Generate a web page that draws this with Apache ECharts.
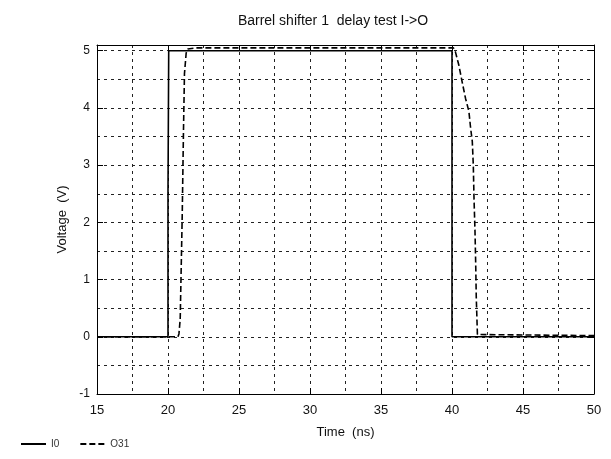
<!DOCTYPE html>
<html>
<head>
<meta charset="utf-8">
<script src="https://cdn.jsdelivr.net/npm/echarts@6/dist/echarts.min.js"></script>
<style>html,body{margin:0;padding:0;background:#fff}#c{width:611px;height:459px}</style>
</head>
<body>
<div id="c"></div>
<script>
var titleText = 'Barrel shifter 1  delay test I->O';
var xName = 'Time  (ns)';
var yName = 'Voltage  (V)';
var seriesNames = ['I0', 'O31'];
// I0 : input step (time ns, voltage V)
var i0Data = [[15, 0], [20, 0], [20, 2.5], [20.05, 2.5], [20.05, 5.0], [40, 5.0], [40, 0], [50, 0]];
// O31 : delayed output
var o31Data = [
  [15, 0], [20.7, 0], [20.77, 0.05], [20.86, 0.31], [21.0, 2.1], [21.09, 3.6],
  [21.16, 4.6], [21.28, 4.96], [21.4, 5.03], [22, 5.05], [40.1, 5.05],
  [40.24, 4.98], [40.48, 4.75], [40.71, 4.46], [40.95, 4.17], [41.19, 3.94], [41.31, 3.65],
  [41.43, 3.41], [41.5, 3.0], [41.55, 2.42], [41.62, 1.84], [41.67, 1.26], [41.71, 0.68],
  [41.79, 0.04], [41.9, 0.02], [50, 0.02]
];
var xMin = 15, xMax = 50, xStep = 5;
var yMin = -1, yMax = 5.1, yStep = 1;

var chart = echarts.init(document.getElementById('c'), null, {renderer: 'canvas'});
var font = 'Liberation Sans, Arial, sans-serif';
var gridL = 97, gridR = 17, gridT = 45, gridB = 65;
var dashGrid = {show: true, lineStyle: {color: '#222', width: 1, type: [3, 4]}};
function mkX(pos, labels) {
  return {
    type: 'value', position: pos, min: xMin, max: xMax, interval: xStep,
    name: labels ? xName : '', nameLocation: 'middle', nameGap: 32,
    nameTextStyle: {fontFamily: font, fontSize: 13, color: '#111'},
    axisLine: {show: true, onZero: false, lineStyle: {color: '#000', width: 1}},
    axisTick: {show: true, inside: true, length: 6, lineStyle: {color: '#000'}},
    minorTick: {show: false, splitNumber: 2},
    axisLabel: {show: labels, margin: 10, fontFamily: font, fontSize: 13, color: '#111',
      formatter: function (v) { return (v % 5 === 0) ? String(v) : ''; }},
    splitLine: labels ? dashGrid : {show: false},
    minorSplitLine: labels ? dashGrid : {show: false}
  };
}
function mkY(pos, labels) {
  return {
    type: 'value', position: pos, min: yMin, max: yMax, interval: yStep,
    name: labels ? yName : '', nameLocation: 'middle', nameGap: 27,
    nameTextStyle: {fontFamily: font, fontSize: 13, color: '#111'},
    axisLine: {show: true, onZero: false, lineStyle: {color: '#000', width: 1}},
    axisTick: {show: true, inside: true, length: 6, lineStyle: {color: '#000'}},
    minorTick: {show: false, splitNumber: 2},
    axisLabel: {show: labels, margin: 7, fontFamily: font, fontSize: 12, color: '#111',
      formatter: function (v) { return (Math.abs(v - Math.round(v)) < 1e-9) ? String(Math.round(v)) : ''; }},
    splitLine: labels ? dashGrid : {show: false},
    minorSplitLine: labels ? dashGrid : {show: false}
  };
}
chart.setOption({
  animation: false,
  backgroundColor: '#fff',
  title: {text: titleText, left: 328, top: 9, textAlign: 'center',
    textStyle: {fontFamily: font, fontSize: 14, fontWeight: 'normal', color: '#111'}},
  grid: {left: gridL, right: gridR, top: gridT, bottom: gridB, containLabel: false},
  legend: {left: 15, bottom: 5, itemWidth: 25, itemHeight: 10, itemGap: 20,
    itemStyle: {color: 'rgba(0,0,0,0)', borderWidth: 0, opacity: 0},
    textStyle: {fontFamily: font, fontSize: 10, color: '#333'},
    data: seriesNames},
  xAxis: [mkX('bottom', true), mkX('top', false)],
  yAxis: [mkY('left', true), mkY('right', false)],
  series: [
    {name: seriesNames[0], type: 'line', data: i0Data, symbol: 'none', color: '#000',
      lineStyle: {color: '#000', width: 1.6, type: 'solid'}, z: 3},
    {name: seriesNames[1], type: 'line', data: o31Data, symbol: 'none', color: '#000',
      lineStyle: {color: '#000', width: 1.6, type: [6, 3]}, z: 4}
  ]
});
</script>
</body>
</html>
